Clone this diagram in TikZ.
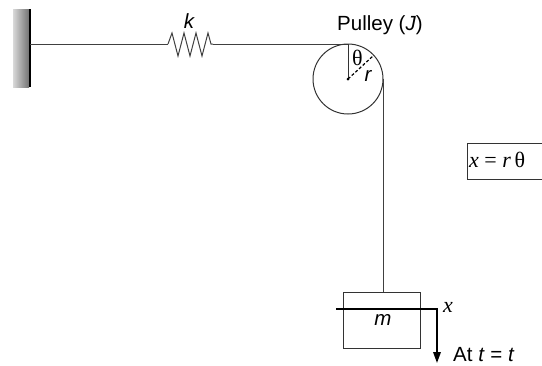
\documentclass[tikz,border=0pt]{standalone}
\usepackage{fontspec}
\setmainfont{Liberation Sans}
\newfontfamily\serifx{Liberation Serif}
\usetikzlibrary{decorations.pathmorphing,arrows.meta}
\begin{document}
\begin{tikzpicture}[x=1pt,y=-1pt,
  rope/.style={draw=black!75,line width=1pt},
  lbl/.style={inner sep=0pt,anchor=base,font=\fontsize{20.5}{20.5}\selectfont},
  slbl/.style={inner sep=0pt,anchor=base,font=\serifx\fontsize{22}{22}\selectfont},
  thin/.style={draw=black!80,line width=1pt}]
\useasboundingbox (0,0) rectangle (542,365);
% wall
\shade[left color=black!15,right color=black!55] (13,9) rectangle (29,87);
\draw[line width=2pt] (30,9) -- (30,87);
\coordinate (w) at (30,44);
\coordinate (s1) at (168,44);
\coordinate (s2) at (213,44);
\coordinate (ptop) at (348,44);
\coordinate (pc) at (348,79);
\coordinate (pr) at (383,79);
\draw[rope] (w) -- (s1);
\draw[rope] (s1) -- (172,33) -- (178,56) -- (184,33) -- (190,56) -- (196,33) -- (202,56) -- (208,33) -- (211,44) -- (s2);
\draw[rope] (s2) -- (ptop);
\node[lbl] (k) at (189,28) {\itshape k};
\node[lbl] (pl) at (380,30) {Pulley (\textit{J})};
% pulley
\draw[thin] (pc) circle[radius=35];
\draw[thin] (pc) -- (ptop);
\draw[line width=1.2pt,dashed,dash pattern=on 3pt off 2pt] (pc) -- (373,56);
\fill (pc) circle[radius=1.5];
\node[slbl] (th) at (357.5,65) {θ};
\node[lbl] (r) at (368,81) {\itshape r};
% rope to mass
\node[draw=black!80,line width=1pt,minimum width=77,minimum height=56,inner sep=0pt,anchor=north west] (m) at (343,292) {};
\draw[rope] (pr) -- (m.north -| pr);
\node[lbl] at (383,325) {\itshape m};
% x arrow
\coordinate (xa) at (336,309);
\coordinate (xb) at (437,309);
\coordinate (xc) at (437,363);
\draw[line width=1.8pt,-{Triangle[length=11pt,width=7.5pt]}] (xa) -- (xb) -- (xc);
\node[slbl] (xl) at (448,312) {\itshape x};
\node[lbl,anchor=base west] (at) at (453,361) {At \textit{t} = \textit{t}};
% equation box
\draw[black!80,line width=1pt] (542,143) -- (467,143) -- (467,179) -- (542,179);
\node[slbl,anchor=base west] (eq) at (469,167) {\textit{x} = \textit{r}\,θ};
\end{tikzpicture}
\end{document}
